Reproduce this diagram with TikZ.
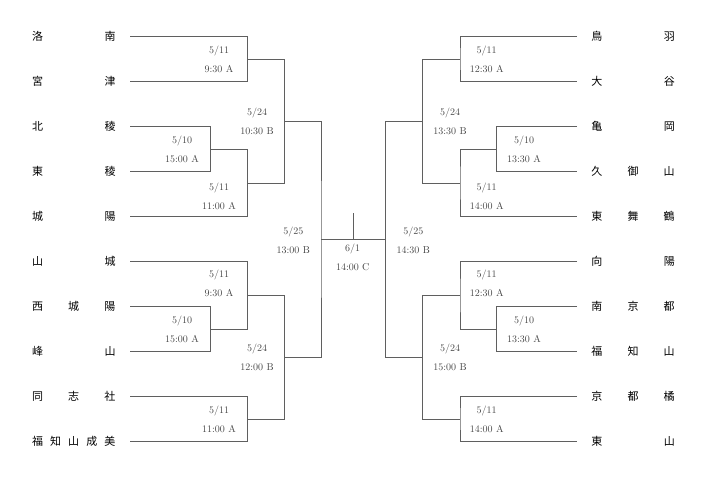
\documentclass[tikz,border=0pt]{standalone}
\usepackage{fontspec}
\usepackage{xcolor}
\usepackage{tikz}
\usetikzlibrary{positioning,calc}
\newfontfamily\jpfont{Noto Sans CJK JP}
\definecolor{linegray}{RGB}{95,95,95}
\definecolor{dategray}{RGB}{70,70,70}

\begin{document}
\begin{tikzpicture}[x=1pt,y=-1pt,team/.style={inner sep=0pt,text width=83.5pt,anchor=base,font=\jpfont\fontsize{11}{13}\selectfont},date/.style={align=center,inner sep=0pt,text=dategray,font=\fontsize{10}{19}\selectfont},bracket/.style={draw=linegray,line width=0.9pt}]
\useasboundingbox (0,0) rectangle (707,479);
% left block
\node[team] (n1) at (73.75,40.9) {洛\hfill 南};
\node[team] (n2) at (73.75,85.9) {宮\hfill 津};
\node[team] (n3) at (73.75,130.9) {北\hfill 稜};
\node[team] (n4) at (73.75,175.9) {東\hfill 稜};
\node[team] (n5) at (73.75,220.9) {城\hfill 陽};
\node[team] (n6) at (73.75,265.9) {山\hfill 城};
\node[team] (n7) at (73.75,310.9) {西\hfill 城\hfill 陽};
\node[team] (n8) at (73.75,355.9) {峰\hfill 山};
\node[team] (n9) at (73.75,400.9) {同\hfill 志\hfill 社};
\node[team] (n10) at (73.75,445.9) {福\hfill 知\hfill 山\hfill 成\hfill 美};
% right block
\node[team] (m1) at (633,40.9) {鳥\hfill 羽};
\node[team] (m2) at (633,85.9) {大\hfill 谷};
\node[team] (m3) at (633,130.9) {亀\hfill 岡};
\node[team] (m4) at (633,175.9) {久\hfill 御\hfill 山};
\node[team] (m5) at (633,220.9) {東\hfill 舞\hfill 鶴};
\node[team] (m6) at (633,265.9) {向\hfill 陽};
\node[team] (m7) at (633,310.9) {南\hfill 京\hfill 都};
\node[team] (m8) at (633,355.9) {福\hfill 知\hfill 山};
\node[team] (m9) at (633,400.9) {京\hfill 都\hfill 橘};
\node[team] (m10) at (633,445.9) {東\hfill 山};
% line ends
\coordinate (l1) at (130,36.7);
\coordinate (l2) at (130,81.7);
\coordinate (l3) at (130,126.7);
\coordinate (l4) at (130,171.7);
\coordinate (l5) at (130,216.7);
\coordinate (l6) at (130,261.7);
\coordinate (l7) at (130,306.7);
\coordinate (l8) at (130,351.7);
\coordinate (l9) at (130,396.7);
\coordinate (l10) at (130,441.7);
\coordinate (r1) at (577,36.7);
\coordinate (r2) at (577,81.7);
\coordinate (r3) at (577,126.7);
\coordinate (r4) at (577,171.7);
\coordinate (r5) at (577,216.7);
\coordinate (r6) at (577,261.7);
\coordinate (r7) at (577,306.7);
\coordinate (r8) at (577,351.7);
\coordinate (r9) at (577,396.7);
\coordinate (r10) at (577,441.7);
% games, left
\coordinate (a1) at (247.3,59.2);
\coordinate (a0) at (210.7,149.2);
\coordinate (a2) at (247.3,183);
\coordinate (b1) at (284.3,121);
\coordinate (a3) at (210.7,329.2);
\coordinate (a4) at (247.3,295.5);
\coordinate (a5) at (247.3,419.2);
\coordinate (b2) at (284.3,357.3);
\coordinate (c1) at (321,239.2);
% games, right
\coordinate (e1) at (460,59.2);
\coordinate (e0) at (496.7,149.2);
\coordinate (e2) at (460,183);
\coordinate (f1) at (422.7,121);
\coordinate (e3) at (496.7,329.2);
\coordinate (e4) at (460,295.5);
\coordinate (e5) at (460,419.2);
\coordinate (f2) at (422.7,357.3);
\coordinate (c2) at (385.3,239.2);
\coordinate (fin) at (353.5,239.2);
\coordinate (top) at (353.5,213.3);
\draw[bracket] (l1) -| (a1) |- (l2);
\draw[bracket] (l3) -| (a0) |- (l4);
\draw[bracket] (a0) -| (a2) |- (l5);
\draw[bracket] (a1) -| (b1) |- (a2);
\draw[bracket] (l7) -| (a3) |- (l8);
\draw[bracket] (l6) -| (a4) |- (a3);
\draw[bracket] (l9) -| (a5) |- (l10);
\draw[bracket] (a4) -| (b2) |- (a5);
\draw[bracket] (b1) -| (c1) |- (b2);
\draw[bracket] (r1) -| (e1) |- (r2);
\draw[bracket] (r3) -| (e0) |- (r4);
\draw[bracket] (e0) -| (e2) |- (r5);
\draw[bracket] (e1) -| (f1) |- (e2);
\draw[bracket] (r7) -| (e3) |- (r8);
\draw[bracket] (r6) -| (e4) |- (e3);
\draw[bracket] (r9) -| (e5) |- (r10);
\draw[bracket] (e4) -| (f2) |- (e5);
\draw[bracket] (f1) -| (c2) |- (f2);
\draw[bracket] (c1) -- (c2);
\draw[bracket] (top) -- (fin);
% dates
\node[date] (d1) at (219,59.5) {5/11\\9:30 A};
\node[date] (d0) at (182,149.5) {5/10\\15:00 A};
\node[date] (d2) at (219,196) {5/11\\11:00 A};
\node[date] (s1) at (257,121.7) {5/24\\10:30 B};
\node[date] (d4) at (219,283.5) {5/11\\9:30 A};
\node[date] (d3) at (182,329.5) {5/10\\15:00 A};
\node[date] (d5) at (219,419.7) {5/11\\11:00 A};
\node[date] (s2) at (257,357.7) {5/24\\12:00 B};
\node[date] (q1) at (293.3,240) {5/25\\13:00 B};
\node[date] (fd) at (352.7,257) {6/1\\14:00 C};
\node[date] (g1) at (486.7,59.5) {5/11\\12:30 A};
\node[date] (g0) at (524,149.5) {5/10\\13:30 A};
\node[date] (g2) at (486.7,196) {5/11\\14:00 A};
\node[date] (h1) at (450,121.7) {5/24\\13:30 B};
\node[date] (g4) at (486.7,283.5) {5/11\\12:30 A};
\node[date] (g3) at (524,329.5) {5/10\\13:30 A};
\node[date] (g5) at (486.7,419.7) {5/11\\14:00 A};
\node[date] (h2) at (450,357.7) {5/24\\15:00 B};
\node[date] (q2) at (413.3,240) {5/25\\14:30 B};
\end{tikzpicture}
\end{document}
